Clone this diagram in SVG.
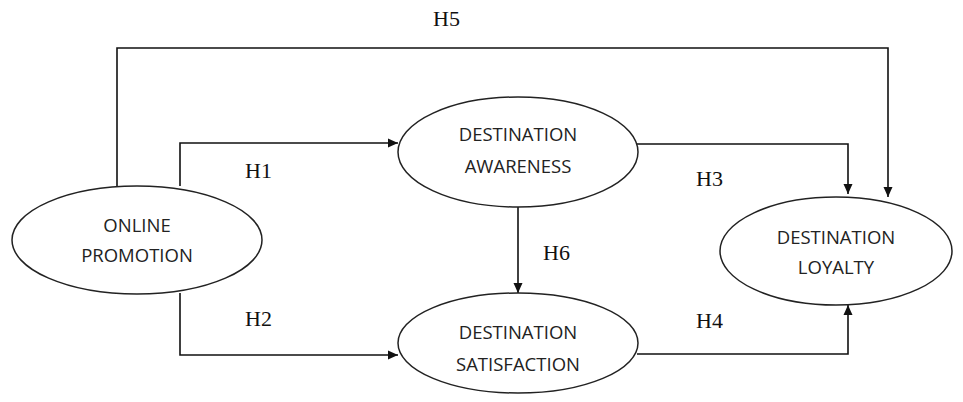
<svg xmlns="http://www.w3.org/2000/svg" width="963" height="402" viewBox="0 0 963 402">
<style>
.node ellipse{fill:#fff;stroke:#222;stroke-width:1.5}
.node text{font-family:"Open Sans","Noto Sans",sans-serif;font-size:18.5px;fill:#222;text-anchor:middle}
.edge{fill:none;stroke:#111;stroke-width:1.6}
.lbl{font-family:"Liberation Serif","Times New Roman",serif;font-size:22px;fill:#111}
</style>
<defs>
<marker id="ah" viewBox="0 0 10 10" refX="10" refY="5" markerWidth="10" markerHeight="10" markerUnits="userSpaceOnUse" orient="auto">
<path d="M0,0.5 L10,5 L0,9.5 Z" fill="#111"/>
</marker>
</defs>
<g id="connectors">
<polyline class="edge" points="117,186 117,48 888,48 888,197" marker-end="url(#ah)"/>
<polyline class="edge" points="180,186 180,143 398,143" marker-end="url(#ah)"/>
<polyline class="edge" points="180,293 180,355 398,355" marker-end="url(#ah)"/>
<polyline class="edge" points="637,144 848,144 848,194" marker-end="url(#ah)"/>
<polyline class="edge" points="518,207 518,293" marker-end="url(#ah)"/>
<polyline class="edge" points="637,354 848,354 848,305" marker-end="url(#ah)"/>
<text class="lbl" x="433" y="26">H5</text>
<text class="lbl" x="245" y="178">H1</text>
<text class="lbl" x="245" y="326">H2</text>
<text class="lbl" x="696" y="186">H3</text>
<text class="lbl" x="696" y="328">H4</text>
<text class="lbl" x="543" y="260">H6</text>
</g>
<g id="online-promotion" class="node">
<ellipse cx="137" cy="240" rx="125" ry="54"/>
<text x="137" y="232">ONLINE</text>
<text x="137" y="262">PROMOTION</text>
</g>
<g id="destination-awareness" class="node">
<ellipse cx="518" cy="152" rx="120" ry="55"/>
<text x="518" y="141">DESTINATION</text>
<text x="518" y="173">AWARENESS</text>
</g>
<g id="destination-satisfaction" class="node">
<ellipse cx="518" cy="343" rx="120" ry="50"/>
<text x="518" y="339">DESTINATION</text>
<text x="518" y="371">SATISFACTION</text>
</g>
<g id="destination-loyalty" class="node">
<ellipse cx="836" cy="251" rx="116" ry="54"/>
<text x="836" y="244">DESTINATION</text>
<text x="836" y="274">LOYALTY</text>
</g>
</svg>
